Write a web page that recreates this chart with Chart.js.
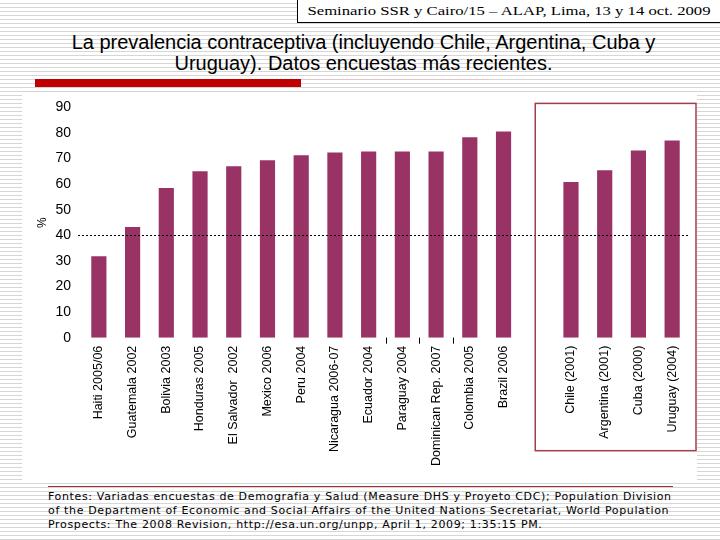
<!DOCTYPE html>
<html>
<head>
<meta charset="utf-8">
<script src="https://cdn.jsdelivr.net/npm/chart.js@4"></script>
<style>
  html, body { margin: 0; padding: 0; }
  body {
    width: 720px; height: 540px; position: relative; overflow: hidden;
    background: repeating-linear-gradient(to bottom, #ffffff 0px, #ffffff 3px, #d6d6d6 3px, #d6d6d6 4px);
    font-family: "Liberation Sans", Arial, sans-serif;
  }
  #header {
    position: absolute; left: 297px; top: -1px; width: 422px; height: 22px;
    border: 1px solid #000; background: #fff; overflow: hidden;
    font-family: "Liberation Serif", "Times New Roman", serif; font-size: 12px;
    line-height: 22px; text-align: center;
  }
  #header span { display: inline-block; transform: scaleX(1.39); transform-origin: center; }
  #title {
    position: absolute; left: 0; top: 32px; width: 727px; text-align: center;
    font-size: 20px; line-height: 21px; color: #000;
  }
  #redbar { position: absolute; left: 35px; top: 79px; width: 266px; height: 8px; background: #c00000; }
  #thinline { position: absolute; left: 301px; top: 79px; width: 189px; height: 1px; background: #e6c4c4; }
  #panel { position: absolute; left: 22px; top: 93px; width: 675px; height: 389px; background: #fff; }
  #chart { position: absolute; left: 0; top: -5.3px; }
  #bottomline { position: absolute; left: 48px; top: 486px; width: 625px; height: 1px; background: #8c3a3a; border-bottom: 1px solid #e9cccc; }
  #footer {
    position: absolute; left: 48px; top: 490px; white-space: pre;
    font-family: "DejaVu Sans", Tahoma, sans-serif; font-size: 11px; line-height: 14px;
    letter-spacing: 0.65px; color: #000;
  }
</style>
</head>
<body>
<div id="header"><span>Seminario SSR y Cairo/15 – ALAP, Lima, 13 y 14 oct. 2009</span></div>
<div id="title">La prevalencia contraceptiva (incluyendo Chile, Argentina, Cuba y<br>Uruguay). Datos encuestas más recientes.</div>
<div id="redbar"></div>
<div id="thinline"></div>
<div id="panel"><canvas id="chart" width="675" height="394"></canvas></div>
<div id="bottomline"></div>
<div id="footer">Fontes: Variadas encuestas de Demografia y Salud (Measure DHS y Proyeto CDC); Population Division
of the Department of Economic and Social Affairs of the United Nations Secretariat, World Population
Prospects: The 2008 Revision, http://esa.un.org/unpp, April 1, 2009; 1:35:15 PM.</div>

<script>
// categories (empty slot separates the four southern-cone countries)
const countries = [
    'Haiti 2005/06', 'Guatemala 2002', 'Bolivia 2003', 'Honduras 2005',
    'El Salvador  2002', 'Mexico 2006', 'Peru 2004', 'Nicaragua 2006-07',
    'Ecuador 2004', 'Paraguay 2004', 'Dominican Rep. 2007', 'Colombia 2005',
    'Brazil 2006', '', 'Chile (2001)', 'Argentina (2001)', 'Cuba (2000)', 'Uruguay (2004)'
];

// contraceptive prevalence, %
const prevalence = [
    31.8, 43.3, 58.5, 65.0,
    67.0, 69.3, 71.3, 72.4,
    72.8, 72.8, 72.8, 78.3,
    80.6, null, 60.8, 65.4, 73.2, 77.1
];

const yTicks = [0, 10, 20, 30, 40, 50, 60, 70, 80, 90];
const refLine = 40;
const boxedFrom = 13;        // index where the framed group starts
const tickedGaps = [9, 10, 11]; // stray tick marks left of these categories

const PLUM = '#993366';

// dashed reference line, stray x ticks, red frame around the last group
const extras = {
    id: 'extras',
    afterDatasetsDraw(chart) {
        const { ctx, chartArea, scales } = chart;
        const x = scales.x;
        const y = scales.y.getPixelForValue(refLine);
        ctx.save();
        ctx.strokeStyle = '#000';
        ctx.lineWidth = 1;
        ctx.setLineDash([2, 2]);
        ctx.beginPath();
        ctx.moveTo(chartArea.left - 4, Math.round(y) + 0.5);
        ctx.lineTo(chartArea.right, Math.round(y) + 0.5);
        ctx.stroke();

        ctx.setLineDash([]);
        ctx.beginPath();
        tickedGaps.forEach(i => {
            const gx = Math.round((x.getPixelForValue(i - 1) + x.getPixelForValue(i)) / 2) + 0.5;
            ctx.moveTo(gx, chartArea.bottom);
            ctx.lineTo(gx, chartArea.bottom + 6);
        });
        ctx.stroke();

        ctx.strokeStyle = '#a83b4a';
        ctx.lineWidth = 1.5;
        const left = x.getPixelForValue(boxedFrom) - 2;
        const top = scales.y.getPixelForValue(90) - 4;
        ctx.strokeRect(left, top, chartArea.right + 7 - left, chartArea.bottom + 113 - top);
        ctx.restore();
    }
};

const config = {
    type: 'bar',
    data: {
        labels: countries,
        datasets: [{
            data: prevalence,
            backgroundColor: PLUM,
            borderWidth: 0,
            barPercentage: 0.45,
            categoryPercentage: 1
        }]
    },
    options: {
        responsive: false,
        animation: false,
        layout: { padding: { top: 7.4, right: 8, left: 0, bottom: 0 } },
        plugins: {
            legend: { display: false },
            tooltip: { enabled: false }
        },
        scales: {
            x: {
                grid: { display: false, drawTicks: false },
                border: { display: false },
                ticks: {
                    autoSkip: false,
                    maxRotation: 90,
                    minRotation: 90,
                    padding: 8,
                    color: '#000',
                    font: { family: 'Liberation Sans', size: 12.5 }
                },
                afterFit: (s) => { s.height = 144.3; }
            },
            y: {
                min: 0,
                max: 90,
                afterBuildTicks: (s) => { s.ticks = yTicks.map(v => ({ value: v })); },
                grid: { display: false, drawTicks: false },
                border: { display: false },
                ticks: {
                    padding: 11,
                    color: '#000',
                    font: { family: 'Liberation Sans', size: 14 }
                },
                title: {
                    display: true,
                    text: '%',
                    color: '#000',
                    padding: { top: 13, bottom: 0 },
                    font: { family: 'Liberation Sans', size: 12 }
                },
                afterFit: (s) => { s.width = 60; }
            }
        }
    },
    plugins: [extras]
};

const chart = new Chart(document.getElementById('chart'), config);
</script>
</body>
</html>
